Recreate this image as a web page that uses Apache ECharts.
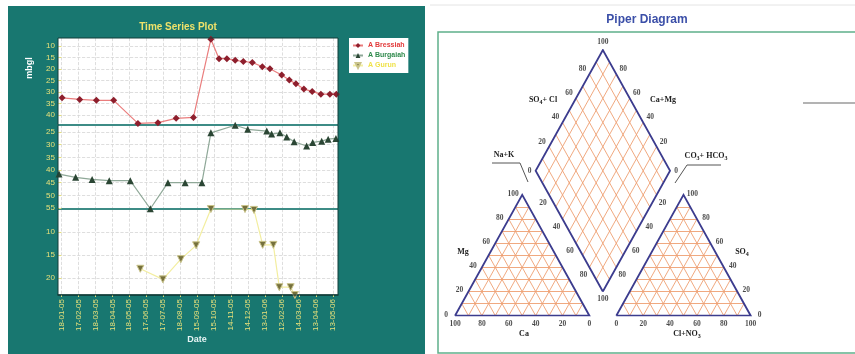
<!DOCTYPE html>
<html><head><meta charset="utf-8">
<script src="https://cdn.jsdelivr.net/npm/echarts@6/dist/echarts.min.js"></script>
<style>html,body{margin:0;padding:0;background:#fff;}#c{width:855px;height:354px;}</style>
</head><body><div id="c"></div>
<script>
// ---------- Time series data ----------
const dateLabels = ['18-01-05','17-02-05','18-03-05','18-04-05','18-05-05','17-06-05','17-07-05','18-08-05','15-09-05','15-10-05','14-11-05','14-12-05','13-01-06','12-02-06','14-03-06','13-04-06','13-05-06'];
// x positions: months after the first date label
const bressiahX = [0.04,1.08,2.06,3.08,4.51,5.69,6.76,7.78,8.81,9.29,9.75,10.24,10.72,11.25,11.84,12.29,12.98,13.43,13.82,14.29,14.78,15.29,15.82,16.2];
const bressiahY = [32.5,33.2,33.6,33.6,43.6,43.3,41.4,41.0,7.0,15.5,15.5,16.2,16.7,17.1,19.0,19.9,22.6,24.8,26.4,28.7,29.7,30.9,30.9,30.9];
const burgaiahX = [-0.14,0.84,1.81,2.82,4.06,5.24,6.28,7.29,8.28,8.81,10.24,10.98,12.1,12.39,12.88,13.28,13.72,14.45,14.81,15.34,15.72,16.18];
const burgaiahY = [41.6,42.9,43.7,44.2,44.2,55.3,45.0,45.0,45.0,25.3,22.3,23.9,24.6,25.8,25.3,26.9,28.8,30.5,29.1,28.6,27.8,27.5];
const gurunX = [4.65,5.98,7.04,7.94,8.81,10.82,11.35,11.86,12.49,12.84,13.51,13.76];
const gurunY = [18.0,20.3,15.9,12.9,5.0,5.0,5.2,12.8,12.8,22.0,22.0,23.7];
const topTicks = [10,15,20,25,30,35,40];
const midTicks = [25,30,35,40,45,50,55];
const botTicks = [10,15,20];
const monthTicks = dateLabels.map((d,i)=>i);

// ---------- Piper diagram structure ----------
const piperEdgeTicks = [0,20,40,60,80,100];
const piperInnerTicks = [20,40,60,80];
const piperGridSteps = [10,20,30,40,50,60,70,80,90];
const GAP = 20;

const H = Math.sqrt(3)/2*100;
const zip = (a,b)=>a.map((v,i)=>[v,b[i]]);
const YEL = '#e6e07a';
const GRIDC = '#d6d6d6';

// Piper geometry (data units, triangle side = 100)
const DB = [100+GAP/2, GAP*Math.sqrt(3)/2];          // diamond bottom
const U = [0.5, H/100], W = [-0.5, H/100];            // unit steps along diamond edges
const dpt = (a,b)=>[DB[0]+a*U[0]+b*W[0], DB[1]+a*U[1]+b*W[1]];
const lerp = (p,q,f)=>[p[0]+(q[0]-p[0])*f, p[1]+(q[1]-p[1])*f];
const gridSegs = [];
function tri(x0){
  piperGridSteps.forEach(t=>{
    const h=t*H/100;
    gridSegs.push([[x0+t/2,h],[x0+100-t/2,h]]);
    gridSegs.push([[x0+t,0],[x0+t+(100-t)/2,(100-t)*H/100]]);
    gridSegs.push([[x0+t,0],[x0+t/2,t*H/100]]);
  });
}
tri(0); tri(100+GAP);
piperGridSteps.forEach(t=>{
  gridSegs.push([dpt(t,0),dpt(t,100)]);
  gridSegs.push([dpt(0,t),dpt(100,t)]);
});
const dBottom = dpt(0,0), dRight = dpt(100,0), dTop = dpt(100,100), dLeft = dpt(0,100);
const outlines = [
  [[0,0],[100,0],[50,H],[0,0]],
  [[100+GAP,0],[200+GAP,0],[150+GAP,H],[100+GAP,0]],
  [dBottom,dRight,dTop,dLeft,dBottom]
];
const labelItems = [];
function addLab(v, p, off){ labelItems.push({name:String(v), value:p, label:{offset:off}}); }
piperEdgeTicks.forEach(v=>{
  addLab(v,[v/2, v*H/100],[-9,-1]);                 // Mg
  addLab(v,[100-v,0],[0,8]);                        // Ca
  addLab(v,[100+GAP+v,0],[0,8]);                    // Cl+NO3
  addLab(v,[200+GAP-v/2, v*H/100],[9,-1]);          // SO4
});
piperInnerTicks.forEach(v=>{
  addLab(v, lerp(dLeft,dTop,v/100), [-7,-5]);       // SO4+Cl
  addLab(v, lerp(dRight,dTop,v/100), [7,-5]);       // Ca+Mg
  addLab(v, lerp(dLeft,dBottom,v/100), [-6,8]);     // Na+K
  addLab(v, lerp(dRight,dBottom,v/100), [6,8]);     // CO3+HCO3
});
addLab(100, dTop, [0,-8]);
addLab(0, dLeft, [-6,0]);
addLab(0, dRight, [6,0]);
addLab(100, dBottom, [0,8]);

function yAx(gi,min,max,ticks){
  return {type:'value',gridIndex:gi,inverse:true,min,max,
    axisLine:{show:false},
    axisTick:{show:true,length:3,customValues:ticks,lineStyle:{color:YEL}},
    axisLabel:{customValues:ticks,color:YEL,fontSize:8,margin:3,fontFamily:'Liberation Sans'},
    splitLine:{show:true,lineStyle:{color:GRIDC,type:'dashed',width:0.8}}};
}
function xAx(gi,labels,lc,lw){
  return {type:'value',gridIndex:gi,min:-0.2,max:16.3,position:'bottom',
    axisLine:{show:true,onZero:false,lineStyle:{color:lc,width:lw}},
    axisTick:{show:labels,length:2,customValues:monthTicks,lineStyle:{color:YEL}},
    axisLabel:{show:labels,customValues:monthTicks,rotate:90,color:YEL,fontSize:8,margin:4,fontFamily:'Liberation Sans',
      formatter:v=>dateLabels[Math.round(v)]},
    splitLine:{show:true,lineStyle:{color:GRIDC,type:'dashed',width:0.8}}};
}
const subRich = {s:{fontSize:6,fontWeight:'bold',fontFamily:'Liberation Serif',padding:[5,0,0,0]}};
const pText = (x,y,t)=>({type:'text',x,y,style:{text:t,fill:'#222',font:'bold 8px "Liberation Serif"',align:'center',verticalAlign:'middle',rich:subRich}});

const chart = echarts.init(document.getElementById('c'));
chart.setOption({
  animation:false,
  backgroundColor:'#fff',
  grid:[
    {left:58,top:38,width:280,height:87,show:true,backgroundColor:'#fff',borderWidth:0},
    {left:58,top:125,width:280,height:84,show:true,backgroundColor:'#fff',borderWidth:0},
    {left:58,top:209,width:280,height:86,show:true,backgroundColor:'#fff',borderWidth:0},
    {left:455,top:50,width:295.7,height:265.7,show:false}
  ],
  xAxis:[
    xAx(0,false,'#3d8c86',2), xAx(1,false,'#3d8c86',2), xAx(2,true,'#0f3a36',1.5),
    {type:'value',gridIndex:3,min:0,max:200+GAP,show:false}
  ],
  yAxis:[
    yAx(0,6.5,44.3,topTicks), yAx(1,22.2,55.4,midTicks), yAx(2,5,23.7,botTicks),
    {type:'value',gridIndex:3,min:0,max:2*H+GAP*Math.sqrt(3)/2,show:false}
  ],
  legend:{left:349,top:38,orient:'vertical',backgroundColor:'#fff',padding:[4,3,4,3],itemGap:3,
    itemWidth:10,itemHeight:6,textStyle:{fontSize:7,fontWeight:'bold',fontFamily:'Liberation Sans'},
    data:[{name:'A Bressiah',textStyle:{color:'#e23a3a'}},{name:'A Burgaiah',textStyle:{color:'#2f8a4c'}},{name:'A Gurun',textStyle:{color:'#efe24a'}}]},
  graphic:[
    {type:'rect',z:-10,shape:{x:8,y:6,width:417,height:348},style:{fill:'#187770'}},
    {type:'rect',z:100,shape:{x:58,y:38,width:280,height:257},style:{fill:'none',stroke:'#123f3a',lineWidth:1}},
    {type:'text',x:178,y:27,style:{text:'Time Series Plot',fill:'#efe26a',font:'bold 10px "Liberation Sans"',align:'center',verticalAlign:'middle'}},
    {type:'text',x:30,y:68,rotation:Math.PI/2,style:{text:'mbgl',fill:'#ffffff',font:'bold 9px "Liberation Sans"',align:'center',verticalAlign:'middle'}},
    {type:'text',x:197,y:340,style:{text:'Date',fill:'#e6f4f4',font:'bold 9px "Liberation Sans"',align:'center',verticalAlign:'middle'}},
    {type:'line',shape:{x1:430,y1:5,x2:855,y2:5},style:{stroke:'#e4e4e4',lineWidth:1}},
    {type:'rect',shape:{x:438,y:32,width:430,height:321},style:{fill:'none',stroke:'#5fb08a',lineWidth:1.5}},
    {type:'text',x:647,y:20,style:{text:'Piper Diagram',fill:'#3b4fa8',font:'bold 12px "Liberation Sans"',align:'center',verticalAlign:'middle'}},
    {type:'line',shape:{x1:803,y1:103,x2:855,y2:103},style:{stroke:'#9a9a9a',lineWidth:1.5}},
    {type:'polyline',shape:{points:[[492,163],[520,163],[528,182]]},style:{stroke:'#555',lineWidth:1,fill:'none'}},
    {type:'polyline',shape:{points:[[721,165],[687,165],[675,183]]},style:{stroke:'#555',lineWidth:1,fill:'none'}},
    pText(504,155,'Na+K'),
    pText(706,156,'CO{s|3}+ HCO{s|3}'),
    pText(543,100,'SO{s|4}+ Cl'),
    pText(663,100,'Ca+Mg'),
    pText(463,252,'Mg'),
    pText(524,334,'Ca'),
    pText(742,252,'SO{s|4}'),
    pText(687,334,'Cl+NO{s|3}')
  ],
  series:[
    {type:'line',name:'A Bressiah',xAxisIndex:0,yAxisIndex:0,data:zip(bressiahX,bressiahY),symbol:'diamond',symbolSize:7,
      lineStyle:{color:'#ea7d7d',width:1.2},itemStyle:{color:'#8e1f2d'}},
    {type:'line',name:'A Burgaiah',xAxisIndex:1,yAxisIndex:1,data:zip(burgaiahX,burgaiahY),symbol:'triangle',symbolSize:7,
      lineStyle:{color:'#8fa898',width:1.2},itemStyle:{color:'#2b4634'}},
    {type:'line',name:'A Gurun',xAxisIndex:2,yAxisIndex:2,data:zip(gurunX,gurunY),symbol:'triangle',symbolRotate:180,symbolSize:7,
      lineStyle:{color:'#f3eea0',width:1.2},itemStyle:{color:'#75703c',borderColor:'#c9c38a',borderWidth:1}},
    {type:'lines',coordinateSystem:'cartesian2d',xAxisIndex:3,yAxisIndex:3,silent:true,
      data:gridSegs.map(c=>({coords:c})),lineStyle:{color:'#ee9f72',width:0.9,opacity:1}},
    {type:'lines',coordinateSystem:'cartesian2d',xAxisIndex:3,yAxisIndex:3,polyline:true,silent:true,
      data:outlines.map(c=>({coords:c})),lineStyle:{color:'#3c3c8e',width:1.8,opacity:1}},
    {type:'scatter',xAxisIndex:3,yAxisIndex:3,silent:true,symbolSize:0.1,itemStyle:{color:'rgba(0,0,0,0)'},
      data:labelItems,label:{show:true,position:'inside',formatter:'{b}',fontSize:7.5,fontWeight:'bold',color:'#1a1a1a',fontFamily:'Liberation Serif'}}
  ]
});
</script></body></html>
